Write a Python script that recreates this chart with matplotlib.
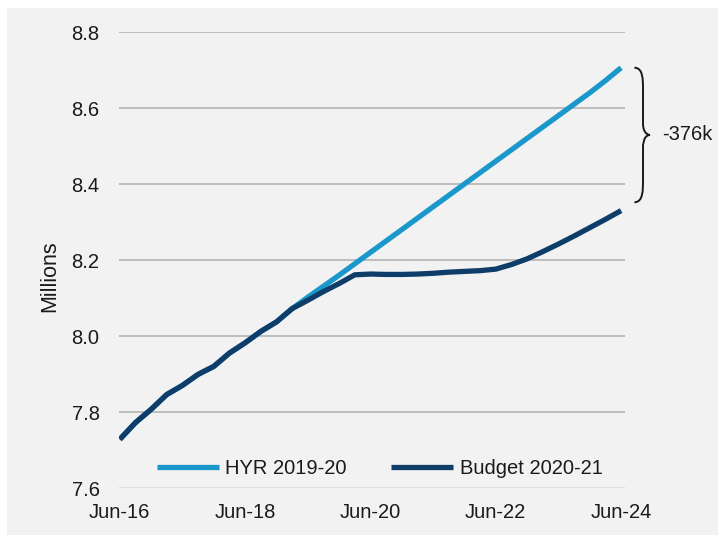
import matplotlib
matplotlib.use("Agg")
import matplotlib.pyplot as plt
from matplotlib.patches import Rectangle, PathPatch
from matplotlib.path import Path

plt.rcParams['font.family'] = ['Liberation Sans', 'DejaVu Sans']

# Quarterly observations, Jun-16 .. Jun-24 (33 quarters), population in millions
quarters = list(range(33))
tick_positions = [0, 8, 16, 24, 32]
tick_labels = ["Jun-16", "Jun-18", "Jun-20", "Jun-22", "Jun-24"]

budget_2020_21 = [7.728, 7.772, 7.807, 7.846, 7.870, 7.899, 7.920, 7.955, 7.982,
                  8.012, 8.037, 8.072, 8.094, 8.117, 8.138, 8.161, 8.163, 8.162,
                  8.162, 8.163, 8.165, 8.168, 8.170, 8.172, 8.176, 8.188, 8.203,
                  8.222, 8.242, 8.263, 8.285, 8.307, 8.330]

hyr_2019_20 = [7.728, 7.772, 7.807, 7.846, 7.870, 7.899, 7.920, 7.955, 7.982,
               8.012, 8.037, 8.072, 8.102, 8.131, 8.160, 8.190, 8.220, 8.250,
               8.280, 8.310, 8.340, 8.370, 8.400, 8.430, 8.460, 8.490, 8.520,
               8.550, 8.580, 8.610, 8.640, 8.672, 8.706]

y_ticks = [7.6, 7.8, 8.0, 8.2, 8.4, 8.6, 8.8]

HYR_COLOR = "#1a98cb"
BUDGET_COLOR = "#0f3d6a"
TEXT_COLOR = "#1a1a1a"

W, H = 718, 542
fig = plt.figure(figsize=(W / 100, H / 100), dpi=100, facecolor="white")

# grey panel behind the chart
fig.patches.append(Rectangle((7 / W, 7 / H), 1 - 7 / W, 1 - 15 / H,
                             transform=fig.transFigure, facecolor="#f2f2f2",
                             edgecolor="none", zorder=-10))

ax = fig.add_axes([119 / W, (H - 488) / H, (625 - 119) / W, (488 - 32) / H])
ax.set_facecolor("none")

for yv in y_ticks[1:]:
    ax.axhline(yv, color="#bdbdbd", lw=1.4, zorder=1)
ax.axhline(y_ticks[0], color="#dedede", lw=2.2, zorder=1)

ax.plot(quarters, hyr_2019_20, color=HYR_COLOR, lw=3.8, label="HYR 2019-20",
        solid_capstyle="butt", zorder=3)
ax.plot(quarters, budget_2020_21, color=BUDGET_COLOR, lw=3.8, label="Budget 2020-21",
        solid_capstyle="butt", solid_joinstyle="round", zorder=4)

ax.set_xlim(-0.05, 32.25)
ax.set_ylim(7.6, 8.8)
ax.set_xticks(tick_positions)
ax.set_xticklabels(tick_labels)
ax.set_yticks(y_ticks)
ax.set_yticklabels([f"{v:.1f}" for v in y_ticks])
ax.tick_params(axis="both", length=0, labelsize=14.5, colors=TEXT_COLOR)
ax.tick_params(axis="y", pad=14)
ax.tick_params(axis="x", pad=11)
for s in ax.spines.values():
    s.set_visible(False)

ax.set_ylabel("Millions", fontsize=15.5, color=TEXT_COLOR)
ax.yaxis.set_label_coords(-0.117, 0.465)

leg = ax.legend(loc="lower center", bbox_to_anchor=(0.515, 0.0), ncol=2,
                frameon=False, fontsize=14.5, handlelength=3.1, handletextpad=0.3,
                columnspacing=2.2, borderaxespad=0.1)
for t in leg.get_texts():
    t.set_color(TEXT_COLOR)

# curly brace spanning the gap between the two end points
top = hyr_2019_20[-1]
bot = budget_2020_21[-1] + 0.022
mid = (top + bot) / 2
x0, x1, x2 = 32.85, 33.4, 33.85
r = 0.03
verts = [
    (x0, top),
    (x1, top), (x1, top - r), (x1, top - 2 * r),
    (x1, mid + r),
    (x1, mid), (x2, mid), (x2, mid),
    (x1, mid), (x1, mid - r), (x1, mid - r),
    (x1, bot + 2 * r),
    (x1, bot + r), (x1, bot), (x0, bot),
]
codes = [Path.MOVETO,
         Path.CURVE4, Path.CURVE4, Path.CURVE4,
         Path.LINETO,
         Path.CURVE4, Path.CURVE4, Path.CURVE4,
         Path.CURVE4, Path.CURVE4, Path.CURVE4,
         Path.LINETO,
         Path.CURVE4, Path.CURVE4, Path.CURVE4]
ax.add_patch(PathPatch(Path(verts, codes), facecolor="none", edgecolor=TEXT_COLOR,
                       lw=1.4, clip_on=False, zorder=5))

gap_k = round((hyr_2019_20[-1] - budget_2020_21[-1]) * 1000)
ax.text(34.6, mid, f"-{gap_k}k", fontsize=14.5, color=TEXT_COLOR,
        ha="left", va="center", clip_on=False)

fig.savefig("out.png", dpi=100, facecolor=fig.get_facecolor())
